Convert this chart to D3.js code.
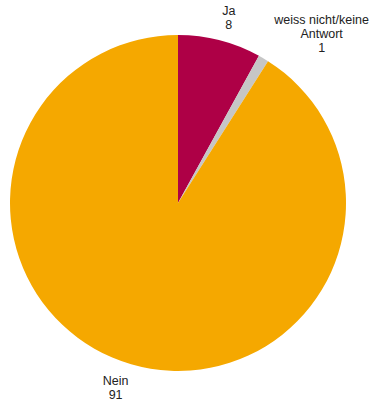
<!DOCTYPE html>
<html>
<head>
<meta charset="utf-8">
<script src="https://cdn.jsdelivr.net/npm/d3@7"></script>
<style>
  html, body { margin: 0; padding: 0; background: #fff; }
  svg { display: block; }
  text { font-family: "Liberation Sans", Arial, sans-serif; font-size: 12.5px; fill: #222; }
</style>
</head>
<body>
<svg id="chart" width="371" height="399"></svg>
<script>
// Answers and their shares (percent), clockwise from 12 o'clock
const categories = ["Ja", "weiss nicht/keine Antwort", "Nein"];
const labelLines = [["Ja"], ["weiss nicht/keine", "Antwort"], ["Nein"]];
const values = [8, 1, 91];
const colors = ["#AE0046", "#C6C6C6", "#F5A800"];

const svg = d3.select("#chart");
const cx = 178, cy = 203, radius = 168;
const labelRadius = 177.5;
const lineHeight = 14;

const data = categories.map((c, i) => ({ name: c, lines: labelLines[i], value: values[i], color: colors[i] }));

const pie = d3.pie().value(d => d.value).sort(null);
const arc = d3.arc().innerRadius(0).outerRadius(radius);
const arcs = pie(data);

const g = svg.append("g").attr("transform", `translate(${cx},${cy})`);

g.selectAll("path.slice")
  .data(arcs)
  .join("path")
  .attr("class", "slice")
  .attr("d", arc)
  .attr("fill", d => d.data.color);

// Small slice next to a neighbouring label: push its label a little aside
const labelNudge = { 1: [6, 4] };

// Labels: the text block's nearest corner sits on a circle just outside the pie
arcs.forEach((a, idx) => {
  const ang = (a.startAngle + a.endAngle) / 2;
  const px = labelRadius * Math.sin(ang);
  const py = -labelRadius * Math.cos(ang);
  const lines = a.data.lines.concat([String(a.data.value)]);

  const t = g.append("text").attr("text-anchor", "middle");
  const spans = lines.map(l => t.append("tspan").text(l));
  const w = d3.max(spans, s => s.node().getComputedTextLength());
  const n = lines.length;

  const left = Math.sin(ang) >= 0 ? px : px - w;
  // first baseline: above the circle the block ends 2px below the last baseline,
  // below it the block starts 12px above the first baseline
  let firstBase = Math.cos(ang) >= 0 ? py - 2 - (n - 1) * lineHeight : py + 12;
  let mid = left + w / 2;
  const nudge = labelNudge[idx];
  if (nudge) { mid += nudge[0]; firstBase += nudge[1]; }

  spans.forEach((s, i) => {
    s.attr("x", mid).attr("y", firstBase + i * lineHeight);
  });
});
</script>
</body>
</html>
